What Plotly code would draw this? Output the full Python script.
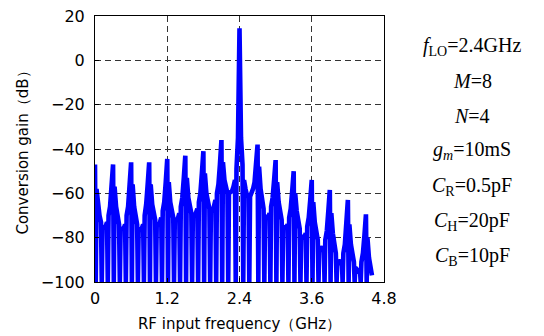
import numpy as np
import plotly.graph_objects as go

# ---- data ----
freq_step_ghz = 0.025
# envelope gain (dB) on a 0.025 GHz grid, one row per 0.3 GHz period
gain_db = [
    -47, -58, -66, -70, -73, -75, -75.5, -75, -73, -70, -66, -57,          # 0.0
    -47, -57, -66, -70, -74, -76, -76, -76, -74, -70, -66, -56,            # 0.3
    -46, -56, -66, -70, -74, -76, -76.5, -76, -74, -70, -65, -56,          # 0.6
    -46, -56, -65, -69, -72, -74, -74, -73.5, -71, -68, -64, -55,          # 0.9
    -44.5, -55, -64, -68, -71, -72.5, -72, -71.5, -69, -66, -62, -53,      # 1.2
    -43, -53, -62, -66, -69, -70.5, -70, -69, -67, -64, -60, -51,          # 1.5
    -41, -51, -60, -64, -67, -68, -67.5, -66, -63, -60, -56, -47,          # 1.8
    -36, -46, -54, -58, -60, -60, -59.5, -59, -57, -54, -49, -35,          # 2.1
    14.5, -35, -47, -54, -58, -61, -61.5, -61.5, -60, -58, -55, -48,       # 2.4
    -38, -48, -58, -63, -67, -70, -71, -71, -69, -66, -62, -54,            # 2.7
    -45, -55, -64, -69, -72, -75, -75.5, -75.5, -74, -71, -67, -59,        # 3.0
    -50, -60, -68, -73, -76, -79, -80, -80, -78, -75, -71, -63,            # 3.3
    -54, -64, -73, -78, -81, -84, -85.5, -85.5, -84, -81, -77, -68,        # 3.6
    -58.5, -69, -78, -84, -87, -90, -91.5, -91.5, -90, -87, -83, -73,      # 3.9
    -63, -74, -83, -88, -91, -93.5, -94.5, -95, -94, -91, -87, -79,        # 4.2
    -69.5, -80, -89, -94, -97,                                             # 4.5
]
freq_ghz = list(np.round(np.arange(len(gain_db)) * freq_step_ghz, 4))

# frequencies of the deep nulls (curve drops to the -100 dB floor)
null_freq_ghz = [
    0.0125, 0.1125, 0.2125, 0.3125, 0.4125, 0.5125, 0.6125, 0.7125, 0.8125,
    0.9125, 1.0125, 1.1125, 1.2125, 1.3125, 1.4125, 1.5125, 1.6125, 1.7125,
    1.8125, 1.9125, 2.0125, 2.1125, 2.2125, 2.3375, 2.4625, 2.5625, 2.7125,
    2.8125, 2.9125, 3.0125, 3.1125, 3.2125, 3.3125, 3.4125, 3.5125, 3.6125,
    3.7125, 3.8125, 3.9125, 4.0125, 4.1125, 4.2125, 4.3125, 4.4125, 4.5125,
]
null_gain_db = [-100] * len(null_freq_ghz)

x_ticks = [0, 1.2, 2.4, 3.6, 4.8]
x_tick_labels = ["0", "1.2", "2.4", "3.6", "4.8"]
y_ticks = [-100, -80, -60, -40, -20, 0, 20]
y_tick_labels = ["\u2212100", "\u221280", "\u221260", "\u221240", "\u221220", "0", "20"]

params = [
    "<i>f</i><sub>LO</sub>=2.4GHz",
    "<i>M</i>=8",
    "<i>N</i>=4",
    "<i>g<sub>m</sub></i>=10mS",
    "<i>C</i><sub>R</sub>=0.5pF",
    "<i>C</i><sub>H</sub>=20pF",
    "<i>C</i><sub>B</sub>=10pF",
]

# merge envelope and nulls in frequency order
pts = sorted(zip(freq_ghz + null_freq_ghz, gain_db + null_gain_db), key=lambda p: p[0])
xs = [p[0] for p in pts]
ys = [p[1] for p in pts]

fig = go.Figure()
fig.add_trace(go.Scatter(x=xs, y=ys, mode="lines",
                         line=dict(color="#0000FF", width=4.6),
                         hoverinfo="skip", showlegend=False))

tick_font = dict(family="DejaVu Sans", size=16, color="black")
title_font = dict(family="DejaVu Sans", size=15, color="black")
fig.update_xaxes(range=[0, 4.8], tickvals=x_ticks, ticktext=x_tick_labels,
                 showline=True, linecolor="black", linewidth=1, mirror=True,
                 ticks="inside", ticklen=4, tickcolor="black",
                 showgrid=True, gridcolor="#333333", griddash="6px,4px", gridwidth=1,
                 zeroline=False, tickfont=tick_font, ticklabelstandoff=2,
                 automargin=False, ticklabeloverflow="allow",
                 title=dict(text="RF input frequency\uff08GHz\uff09",
                            font=title_font, standoff=11))
fig.update_yaxes(range=[-100, 20], tickvals=y_ticks, ticktext=y_tick_labels,
                 showline=True, linecolor="black", linewidth=1, mirror=True,
                 ticks="inside", ticklen=4, tickcolor="black",
                 showgrid=True, gridcolor="#333333", griddash="6px,4px", gridwidth=1,
                 zeroline=False, tickfont=tick_font, ticklabelstandoff=6,
                 automargin=False, ticklabeloverflow="allow",
                 title=dict(text="Conversion gain\uff08dB\uff09",
                            font=title_font, standoff=8))

param_y = [0.8835, 0.7556, 0.6241, 0.4925, 0.3609, 0.2293, 0.0977]
for txt, yy in zip(params, param_y):
    fig.add_annotation(text=txt, xref="paper", yref="paper", x=1.3045, y=yy,
                       xanchor="center", yanchor="middle", showarrow=False,
                       font=dict(family="Liberation Serif", size=20, color="black"))

# the page body has an 8px margin, so the figure is laid out at (8, 8)
fig.update_layout(width=536, height=328,
                  margin=dict(l=87, r=160, t=8, b=54),
                  paper_bgcolor="white", plot_bgcolor="white")

fig.write_html("out.html")
